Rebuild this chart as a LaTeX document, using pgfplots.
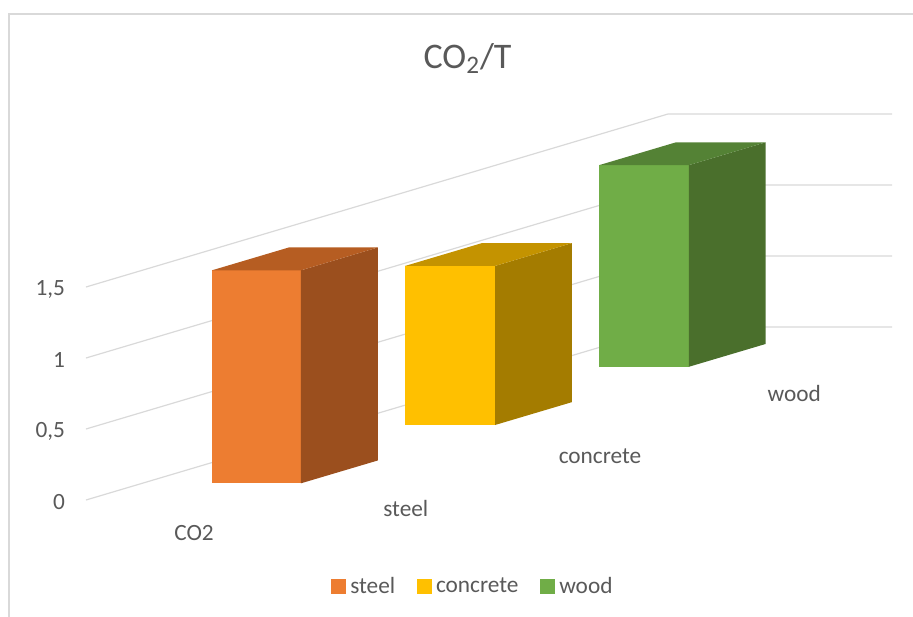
\documentclass[border=0pt]{standalone}
\usepackage{fontspec}
\setmainfont{Carlito}
\usepackage{pgfplots}
\pgfplotsset{compat=1.18}
\definecolor{txt}{HTML}{595959}
\definecolor{grd}{HTML}{D9D9D9}
\definecolor{stF}{HTML}{ED7D31}\definecolor{stT}{HTML}{B65D22}\definecolor{stS}{HTML}{9B4F1E}
\definecolor{coF}{HTML}{FFC000}\definecolor{coT}{HTML}{C49300}\definecolor{coS}{HTML}{A47C00}
\definecolor{woF}{HTML}{70AD47}\definecolor{woT}{HTML}{548235}\definecolor{woS}{HTML}{4A6F2C}
\begin{document}
\begin{tikzpicture}
\begin{axis}[
  x={(0.5pt,0pt)}, y={(291pt,86.5pt)}, z={(0pt,71pt)},
  xmin=0, xmax=224, ymin=0, ymax=1, zmin=0, zmax=1.5,
  clip=false,
  axis line style={draw=none},
  major tick length=0pt,
  xtick=\empty, ytick=\empty,
  ztick={0,0.5,1,1.5},
  zticklabels={0,{0,5},1,{1,5}},
  z tick label style={font=\fontsize{11.65}{14}\selectfont, text=txt, anchor=east, xshift=-7pt, yshift=-1pt},
  legend columns=3,
  legend style={at={(axis cs:388,0,-0.609)}, anchor=center, draw=none, fill=none,
    font=\fontsize{11.65}{14}\selectfont, text=txt,
    /tikz/every even column/.append style={column sep=9pt}},
  legend image code/.code={\fill[#1] (0pt,-3.5pt) rectangle (7pt,3.5pt);},
]
% gridlines (side wall and back wall)
\addplot3[grd, line width=0.6pt, mark=none, forget plot] coordinates {(0,0,0) (0,1,0) (224,1,0)};
\addplot3[grd, line width=0.6pt, mark=none, forget plot] coordinates {(0,0,0.5) (0,1,0.5) (224,1,0.5)};
\addplot3[grd, line width=0.6pt, mark=none, forget plot] coordinates {(0,0,1) (0,1,1) (224,1,1)};
\addplot3[grd, line width=0.6pt, mark=none, forget plot] coordinates {(0,0,1.5) (0,1,1.5) (224,1,1.5)};
% wood (back) h = 1.42
\addplot3[fill=woF, draw=none, mark=none, forget plot] coordinates {(65,0.770,0) (154.7,0.770,0) (154.7,0.770,1.42) (65,0.770,1.42)};
\addplot3[fill=woS, draw=none, mark=none, forget plot] coordinates {(154.7,0.770,0) (154.7,0.902,0) (154.7,0.902,1.42) (154.7,0.770,1.42)};
\addplot3[fill=woT, draw=none, mark=none, forget plot] coordinates {(65,0.770,1.42) (154.7,0.770,1.42) (154.7,0.902,1.42) (65,0.902,1.42)};
% concrete h = 1.12
\addplot3[fill=coF, draw=none, mark=none, forget plot] coordinates {(66.7,0.4335,0) (156.7,0.4335,0) (156.7,0.4335,1.12) (66.7,0.4335,1.12)};
\addplot3[fill=coS, draw=none, mark=none, forget plot] coordinates {(156.7,0.4335,0) (156.7,0.5655,0) (156.7,0.5655,1.12) (156.7,0.4335,1.12)};
\addplot3[fill=coT, draw=none, mark=none, forget plot] coordinates {(66.7,0.4335,1.12) (156.7,0.4335,1.12) (156.7,0.5655,1.12) (66.7,0.5655,1.12)};
% steel h = 1.5
\addplot3[fill=stF, draw=none, mark=none, forget plot] coordinates {(69.8,0.0965,0) (158.8,0.0965,0) (158.8,0.0965,1.5) (69.8,0.0965,1.5)};
\addplot3[fill=stS, draw=none, mark=none, forget plot] coordinates {(158.8,0.0965,0) (158.8,0.2285,0) (158.8,0.2285,1.5) (158.8,0.0965,1.5)};
\addplot3[fill=stT, draw=none, mark=none, forget plot] coordinates {(69.8,0.0965,1.5) (158.8,0.0965,1.5) (158.8,0.2285,1.5) (69.8,0.2285,1.5)};
% legend
\addlegendimage{stF}\addlegendentry{steel}
\addlegendimage{coF}\addlegendentry{concrete}
\addlegendimage{woF}\addlegendentry{wood}
% labels
\node[anchor=base, text=txt, font=\fontsize{11.65}{14}\selectfont] at (axis cs:108,0,-0.2817) {CO2};
\node[anchor=base, text=txt, font=\fontsize{11.65}{14}\selectfont] at (axis cs:222.8,0.16667,-0.3163) {steel};
\node[anchor=base, text=txt, font=\fontsize{11.65}{14}\selectfont] at (axis cs:223,0.5,-0.3507) {concrete};
\node[anchor=base, text=txt, font=\fontsize{11.65}{14}\selectfont] at (axis cs:223.2,0.83333,-0.322) {wood};
\node[anchor=base, text=txt, font=\fontsize{18}{21}\selectfont] at (axis cs:381.5,0,3.042) {CO\textsubscript{2}/T};
% chart border (top and left)
\draw[grd, line width=0.7pt] (axis cs:-77,0,-0.85) -- (axis cs:-77,0,3.4225) -- (axis cs:835,0,3.4225);
\coordinate (TL) at (axis cs:-86,0,3.5211);
\coordinate (BR) at (axis cs:827,0,-0.8169);
\end{axis}
\pgfresetboundingbox
\path[use as bounding box] (TL) rectangle (BR);
\end{tikzpicture}
\end{document}
